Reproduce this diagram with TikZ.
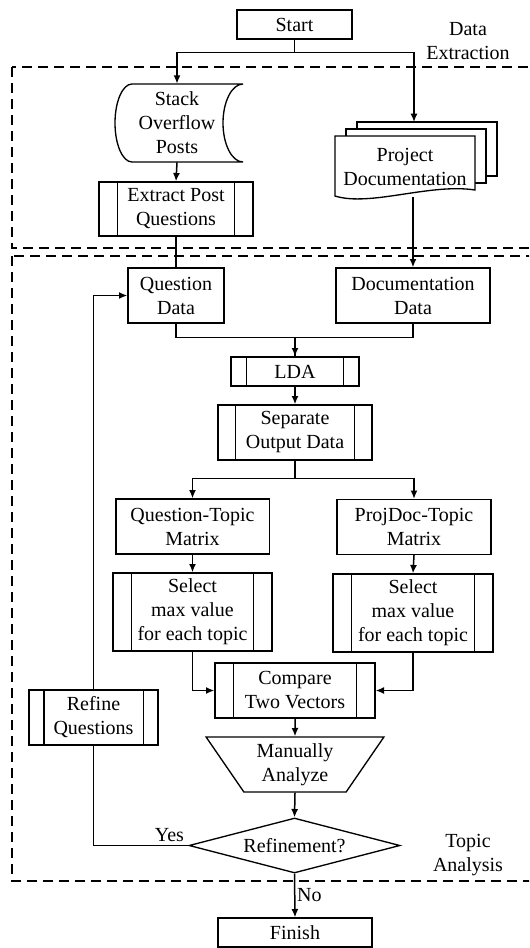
\documentclass[tikz,border=0pt]{standalone}
\usepackage{fontspec}
\setmainfont{Liberation Serif}
\usepackage{tikz}
\usetikzlibrary{shapes.geometric,arrows.meta}
\tikzstyle{box}=[rectangle,draw,line width=0.8pt,fill=white,text=black,align=center,inner sep=1pt]
\tikzstyle{txt}=[align=center,inner sep=0pt]
\tikzstyle{arr}=[->,line width=0.9pt,>={Latex[length=5pt,width=4.2pt]}]
\tikzstyle{line}=[line width=0.9pt]
\tikzstyle{group}=[dashed,line width=0.8pt,dash pattern=on 6pt off 3.6pt]
% bars of a predefined process
\newcommand{\procbars}[2]{\draw[line width=0.8pt] ([xshift=#2]#1.north west)--([xshift=#2]#1.south west) ([xshift=-#2]#1.north east)--([xshift=-#2]#1.south east);}

\begin{document}
\begin{tikzpicture}[x=0.6pt,y=-0.6pt,font=\fontsize{12pt}{14.4pt}\selectfont]
  \useasboundingbox (0,0) rectangle (529,948);
  \clip (0,0) rectangle (529,948);

  % groups
  \draw[group] (12,67) rectangle (545,248);
  \draw[group] (12,256) rectangle (545,881);
  \node[txt] (lblDE) at (468,41) {Data\\Extraction};
  \node[txt] (lblTA) at (468,855) {Topic\\Analysis};

  \node[box,minimum width=69pt,minimum height=17.4pt] (start) at (294.5,24.5) {Start};

  % stored data
  \draw[line width=0.8pt] (132,84)--(243,84) .. controls (232,84) and (223,101.5) .. (223,123)
    .. controls (223,144.5) and (232,162) .. (243,162) -- (132,162)
    .. controls (122.6,162) and (115,144.5) .. (115,123) .. controls (115,101.5) and (122.6,84) .. (132,84);
  \node[txt,minimum height=46.8pt] (so) at (177,123) {Stack\\Overflow\\Posts};

  % documents
  \draw[line width=0.8pt] (357,129)--(357,122)--(497,122)--(497,176)--(486,176);
  \draw[line width=0.8pt] (346,136)--(346,129)--(486,129)--(486,183)--(475,183);
  \draw[line width=0.8pt,fill=white] (335,136)--(475,136)--(475,190) .. controls (430,183) and (370,207) .. (335,196)--cycle;
  \node[txt,minimum height=36.6pt] (pd) at (405,166.5) {Project\\Documentation};
  \coordinate (pdtop) at (414,122);

  \node[box,minimum width=92.4pt,minimum height=32.4pt] (ep) at (176,209) {Extract Post\\Questions};
  \procbars{ep}{11.4pt}

  \node[box,minimum width=57.6pt,minimum height=33pt] (qd) at (176,295.5) {Question\\Data};
  \node[box,minimum width=92.4pt,minimum height=33pt] (dd) at (413,295.5) {Documentation\\Data};
  \node[box,minimum width=76.8pt,minimum height=17.4pt] (lda) at (295,371.5) {LDA};
  \procbars{lda}{9.6pt}
  \node[box,minimum width=92.4pt,minimum height=33pt] (sep) at (295,432.5) {Separate\\Output Data};
  \procbars{sep}{11pt}

  \node[box,minimum width=92pt,minimum height=33pt] (qt) at (192.5,526.5) {Question-Topic\\Matrix};
  \node[box,minimum width=92.4pt,minimum height=33pt] (pt) at (414,527) {ProjDoc-Topic\\Matrix};
  \node[box,minimum width=95.4pt,minimum height=46.8pt] (sl) at (192.5,612) {Select\\max value\\for each topic};
  \procbars{sl}{11.4pt}
  \node[box,minimum width=96pt,minimum height=46.8pt] (sr) at (413,613) {Select\\max value\\for each topic};
  \procbars{sr}{11.4pt}

  \node[box,minimum width=96pt,minimum height=33pt] (cmp) at (295,690.5) {Compare\\Two Vectors};
  \procbars{cmp}{11.4pt}
  \node[box,minimum width=77.4pt,minimum height=33pt] (rq) at (93.5,717.5) {Refine\\Questions};
  \procbars{rq}{9.3pt}

  \node[box,trapezium,shape border rotate=180,trapezium angle=57,trapezium stretches=true,
    minimum width=107.4pt,minimum height=33pt] (ma) at (295,764.5) {Manually\\Analyze};
  \node[box,diamond,aspect=3.84,minimum width=126.6pt,minimum height=33pt,inner sep=0pt] (rf) at (294.5,845.5) {Refinement?};
  \node[box,minimum width=92.4pt,minimum height=17.4pt] (fin) at (295,932.5) {Finish};

  % flow
  \draw[arr] (start.south)--++(0,13)-|(so.north);
  \draw[arr] (start.south)--++(0,13)-|(pdtop);
  \draw[arr] (so.south)--(ep.north);
  \draw[line] (ep.south)--(qd.north);
  \draw[arr] (pd.south -| dd.north)--(dd.north);
  \draw[arr] (qd.south)--++(0,14)-|(lda.north);
  \draw[line] (dd.south)--++(0,14)-|(lda.north);
  \draw[arr] (lda.south)--(sep.north);
  \draw[arr] (sep.south)--++(0,18)-|(qt.north);
  \draw[arr] (sep.south)--++(0,18)-|(pt.north);
  \draw[arr] (qt.south)--(sl.north); \draw[arr] (pt.south)--(sr.north);
  \draw[arr] (sl.south)|-(cmp.west); \draw[arr] (sr.south)|-(cmp.east);
  \draw[arr] (cmp.south)--(ma.north);
  \draw[arr] (ma.south)--(rf.north);
  \draw[line] (rf.west)-|(rq.south) node[pos=0.1,above,inner sep=2pt]{Yes};
  \draw[arr] (rq.north)|-(qd.west);
  \draw[arr] (rf.south)--(fin.north) node[midway,right,inner sep=1pt]{No};

\end{tikzpicture}
\end{document}
